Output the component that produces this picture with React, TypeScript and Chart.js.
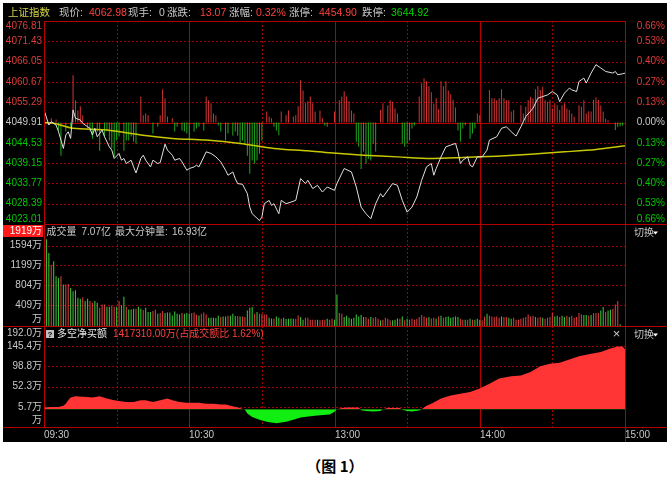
import React, { useEffect, useRef } from "react";
import { Chart, registerables } from "chart.js";

Chart.register(...registerables);

// ---------------- data ----------------
const indexName = "上证指数";
const quoteLabels = ["现价:", "现手:", "涨跌:", "涨幅:", "涨停:", "跌停:"];
const quoteValues = ["4062.98", "0", "13.07", "0.32%", "4454.90", "3644.92"];
const quoteTones = ["up", "flat", "up", "up", "up", "down"];

const prevClose = 4049.91;
const priceTicks = [4076.81, 4071.43, 4066.05, 4060.67, 4055.29, 4049.91, 4044.53, 4039.15, 4033.77, 4028.39, 4023.01];

const timeLabels = ["09:30", "10:30", "13:00", "14:00", "15:00"];
const timeLabelMinutes = [0, 60, 120, 180, 240];

const priceMinutes = [0,2,3,5,6,8,9,10,11,12,13,15,16,18,19,20,21,22,24,25,27,28,29,31,32,33,34,36,37,38,40,41,42,44,45,47,48,50,51,53,54,56,57,59,60,62,63,64,67,69,71,73,75,76,78,79,80,82,84,85,86,89,90,91,93,94,95,97,98,100,102,104,106,108,109,111,113,115,117,120,121,124,127,129,131,133,135,137,139,140,144,146,148,150,152,154,156,158,160,161,162,164,166,168,170,171,172,173,175,176,177,179,181,183,184,187,189,191,193,195,197,198,199,202,204,206,208,210,212,213,215,217,218,220,221,223,224,226,228,230,232,235,236,237,239,240];
const priceValues = [4053.24,4049.24,4050.12,4049.24,4047.46,4043.04,4046.58,4047.46,4045.70,4053.24,4051.03,4050.58,4049.70,4048.79,4048.37,4046.58,4048.37,4046.13,4047.91,4046.13,4043.46,4042.59,4040.38,4041.71,4039.92,4040.38,4039.04,4039.92,4038.14,4036.54,4040.38,4041.25,4039.92,4038.14,4039.92,4039.04,4039.30,4044.18,4042.59,4041.25,4039.92,4040.38,4039.47,4037.26,4037.71,4038.14,4038.59,4038.14,4042.13,4041.71,4040.80,4039.47,4037.26,4035.93,4036.81,4035.05,4033.72,4033.53,4031.05,4027.48,4025.73,4023.94,4024.82,4028.39,4029.27,4027.94,4028.39,4025.73,4029.27,4028.39,4028.82,4029.27,4035.05,4033.72,4034.60,4032.39,4033.26,4031.48,4032.81,4031.93,4033.72,4037.71,4036.81,4032.81,4027.48,4025.73,4024.39,4028.39,4031.05,4030.15,4033.72,4033.26,4029.27,4026.15,4027.48,4030.15,4034.60,4038.14,4039.04,4035.93,4037.71,4040.80,4043.46,4043.92,4044.37,4042.13,4039.04,4039.92,4040.80,4038.59,4038.14,4040.80,4040.80,4042.59,4045.25,4046.13,4048.37,4048.79,4047.46,4046.31,4048.79,4050.12,4051.46,4053.69,4056.36,4056.78,4057.23,4058.11,4057.23,4055.45,4057.69,4059.02,4058.57,4058.11,4060.78,4061.68,4060.35,4063.01,4065.23,4064.35,4063.44,4063.01,4063.44,4062.56,4062.83,4062.98];

const avgMinutes = [0,4,12,26,40,53,67,81,95,109,118,132,146,160,173,187,201,215,228,240];
const avgValues = [4049.91,4049.70,4048.37,4047.91,4046.58,4045.70,4045.25,4044.37,4043.04,4042.40,4041.87,4041.25,4040.80,4040.38,4040.64,4040.99,4041.52,4042.13,4042.77,4043.73];

const leadMinutes = [3,5,6,7,9,11,12,13,14,15,16,18,19,20,22,23,25,26,27,28,29,30,31,33,34,35,36,37,38,40,41,42,43,45,47,48,49,50,51,53,54,55,57,58,59,60,62,63,64,66,67,68,69,70,71,72,73,75,76,78,79,80,81,82,83,84,85,86,87,88,89,90,92,93,94,95,96,97,98,100,101,103,104,105,106,107,108,109,110,111,112,114,115,116,117,120,122,123,124,125,126,127,128,129,130,131,132,133,134,135,136,137,139,140,142,143,144,145,146,148,149,150,151,152,153,155,156,157,158,159,160,161,162,163,164,165,166,167,168,169,170,171,172,173,174,176,177,178,179,180,184,185,186,187,188,189,190,191,192,193,194,197,198,199,200,201,202,203,204,205,206,207,208,209,210,211,212,213,214,215,216,217,218,219,221,222,223,224,225,226,227,228,229,230,231,232,233,236,237,238,239];
const leadValues = [1.1,0.8,-2.1,-8.8,-2.4,-1.1,12.5,5.9,3.2,4.3,1.9,-1.6,-2.4,-4.3,-2.4,-7.5,-3.7,-2.4,-4.8,-6.9,-9.1,-4.8,-3.7,-7.5,-4.8,-4.8,-3.7,-5.1,-5.6,6.9,1.9,2.4,1.9,-2.9,-1.1,1.9,8.8,6.4,1.6,1.1,-2.4,-1.1,-2.1,-2.4,-2.9,-4.8,-2.4,-1.6,-1.1,-2.1,6.9,5.9,5.1,2.4,1.9,-0.8,-2.4,-4.8,-2.9,-3.5,-2.4,-3.5,-5.6,-4.8,-5.6,-8.8,-13.6,-10.1,-10.9,-10.1,-8.3,-4.8,2.9,1.6,1.1,-1.1,-2.1,-3.4,2.9,1.9,3.2,1.6,1.9,4.3,11.2,8.5,5.1,5.6,6.9,5.1,2.9,3.2,1.1,-0.8,-1.1,2.9,5.9,6.9,8.3,6.9,5.6,3.2,2.4,-5.1,-6.4,-12.3,-7.7,-10.9,-9.6,-10.1,-5.6,-7.7,3.3,5.1,4.5,5.9,5.5,3.7,2.4,-5.6,-6.4,-5.6,-4.8,-1.6,-0.8,6.9,10.4,11.7,10.9,9.6,8.0,5.0,6.4,3.5,10.9,9.6,10.9,8.5,7.5,6.0,4.0,-2.1,-5.1,-1.6,-0.7,-4.3,-2.9,-1.6,2.4,1.9,8.6,6.4,6.4,5.9,6.4,8.8,6.4,5.9,5.9,2.9,3.3,4.6,2.4,4.2,5.9,6.8,6.4,8.8,9.7,8.6,9.5,5.9,5.5,5.9,3.7,5.1,4.6,3.3,4.6,5.1,3.7,3.3,2.4,1.5,4.6,4.2,5.9,2.4,3.0,2.9,6.0,6.6,6.0,4.5,2.9,1.0,0.6,-2.0,-1.2,-1.0,-0.8];

// per-minute volume (万), starting at minute 1
const volumeValues = [
  1720,1444,1215,1281,985,952,985,821,821,834,755,690,709,558,538,571,493,538,493,460,493,460,361,427,427,381,381,407,381,381,493,407,578,381,329,329,341,341,381,341,315,361,276,
  276,296,322,243,256,296,256,269,269,210,289,243,230,256,243,256,243,256,269,223,210,243,269,230,164,164,164,158,204,177,190,190,204,204,243,197,197,190,190,177,309,361,374,243,276,243,243,230,230,164,151,144,190,164,144,164,138,144,151,144,144,210,177,125,164,164,125,125,125,125,112,125,125,144,125,144,125,
  624,
  256,243,177,204,164,144,164,230,190,217,177,177,144,177,164,177,144,112,125,164,144,112,112,125,151,144,190,112,144,125,144,125,144,177,217,190,164,177,151,164,144,190,204,164,177,190,164,177,190,177,144,125,125,125,144,125,125,144,125,112,190,243,204,190,177,190,164,190,177,177,164,144,164,125,125,144,164,177,230,190,204,177,164,177,164,144,164,177,256,190,204,177,204,177,204,177,204,164,177,256,230,217,217,204,217,256,256,256,309,374,276,309,322,341,427,493,33
];
const volumeDirs =
  "ggrgggrgrr" + "gggggrggrr" + "ggrrrggrrg" + "rggrgggrgg" + "rgg" +
  "grrgrrgggg" + "gggrgggrrr" + "grrrgggggr" + "ggrgggrgrr" + "gggrgrrrrg" + "grggrgg" + "gggrrggrrrrrgrrrgrrg" +
  "g" +
  "rrgggggggg" + "grrgrrrgrr" + "rrgggrgrg" + "rrrrrrrrgr" + "rgrgrggggg" + "grrgrgrgg" + "grrgrrrrrg" + "rrggrrrrrr" + "rrrgrrgrrr" + "rggrggrgrr" + "rrrggrgrrr" + "ggrggrrrg";
const volumeTicks = [1594, 1199, 804, 409];
const volumeTopValue = 1919;
const volumeMax = 2020;
const volumeHeader = ["成交量", "7.07亿", "最大分钟量:", "16.93亿"];

const netMinutes = [0,3,6,8,9,10,11,13,16,18,20,23,26,29,31,34,37,40,42,45,48,51,53,56,59,62,64,67,70,73,75,78,81,83,84,86,89,92,96,100,103,106,110,114,118,120,121,123,125,130,131,133,136,139,140,142,147,148,150,152,155,156,158,160,164,168,172,176,180,184,188,193,197,201,205,209,213,217,221,226,230,234,237,239,240];
const netValues = [4,5,5,8,13,21,27,30,29,28,27,30,25,21,19,17,17,21,21,17,21,25,21,17,15,15,15,13,13,11,11,7,3,-1,-10,-18,-24,-29,-32,-29,-24,-19,-16,-14,-12,-6,0,3,4,4,-2,-4,-5,-4,0,3,3,-1,-4,-5,-3,0,8,13,25,32,36,40,48,59,71,76,78,86,99,105,107,115,122,128,132,140,145,145,138];
const netTicks = [192.0, 145.4, 98.8, 52.3, 5.7];
const netMin = -40.9;
const netTitle = "多空净买额";
const netSummary = "1417310.00万(占成交额比 1.62%)";
const switchLabel = "切换";

// ---------------- layout & style ----------------
const OFF = 3;
const CW = 664;
const CH = 439;
const PLOT_LEFT = 41;
const PLOT_RIGHT = 622;
const PANEL_Y = [18, 221, 323, 424];

const COL = {
  solid: "#b40000",
  dash: "#a00000",
  text: "#c8c8c8",
  white: "#e8e8e8",
  upLbl: "#e03c3c",
  downLbl: "#00c800",
  upVal: "#ff4040",
  downVal: "#00d200",
  yellow: "#d2d246",
  price: "#e0e0e0",
  avg: "#c8c800",
  leadUp: "#d43434",
  leadDown: "#1ea81e",
  volUp: "#d03a3a",
  volDown: "#36bc36",
  netUp: "#ff3535",
  netDown: "#11ee11",
  box: "#ff1a1a",
};
const FONT = '10px "Liberation Sans", "Noto Sans CJK SC", sans-serif';
const HEAD_FONT = '10.5px "Liberation Sans", "Noto Sans CJK SC", sans-serif';
const headLabelX = [59, 128, 167, 229, 289, 362];
const headValueX = [89, 159, 200, 256, 319, 391];
const volHeadX = [46.5, 81.5, 115, 172];

function text(ctx: CanvasRenderingContext2D, s: string, x: number, y: number, color: string, align: CanvasTextAlign = "left", font = FONT) {
  ctx.save();
  ctx.font = font;
  ctx.fillStyle = color;
  ctx.textAlign = align;
  ctx.textBaseline = "middle";
  ctx.fillText(s, x, y);
  ctx.restore();
}
function hline(ctx: CanvasRenderingContext2D, x1: number, x2: number, y: number, color: string, dashed = false) {
  const yy = Math.round(y) + 0.5;
  ctx.save();
  ctx.strokeStyle = color;
  ctx.lineWidth = 1;
  ctx.setLineDash(dashed ? [2, 2] : []);
  ctx.beginPath();
  ctx.moveTo(x1, yy);
  ctx.lineTo(x2, yy);
  ctx.stroke();
  ctx.restore();
}
function vline(ctx: CanvasRenderingContext2D, x: number, y1: number, y2: number, color: string, dashed = false) {
  const xx = Math.round(x) + 0.5;
  ctx.save();
  ctx.strokeStyle = color;
  ctx.lineWidth = 1;
  ctx.setLineDash(dashed ? [2, 2] : []);
  ctx.beginPath();
  ctx.moveTo(xx, y1);
  ctx.lineTo(xx, y2);
  ctx.stroke();
  ctx.restore();
}
function vGrid(chart: any) {
  const { ctx, chartArea: a, scales } = chart;
  for (let m = 30; m < 240; m += 30) {
    const solid = m % 60 === 0;
    vline(ctx, scales.x.getPixelForValue(m), a.top, a.bottom, solid ? COL.solid : COL.dash, !solid);
  }
}
function frame(chart: any, bottomFull: boolean, rightTo: number) {
  const { ctx, chartArea: a } = chart;
  vline(ctx, a.left, a.top, a.bottom, COL.solid);
  vline(ctx, a.right, a.top, rightTo, COL.solid);
  hline(ctx, bottomFull ? 0 : a.left, CW, a.bottom, COL.solid);
}
function switchMark(ctx: CanvasRenderingContext2D, y: number) {
  text(ctx, switchLabel, 634 - OFF, y, COL.text);
  ctx.save();
  ctx.fillStyle = "#ffffff";
  ctx.beginPath();
  ctx.moveTo(653 - OFF, y - 1.5);
  ctx.lineTo(658 - OFF, y - 1.5);
  ctx.lineTo(655.5 - OFF, y + 1.5);
  ctx.closePath();
  ctx.fill();
  ctx.restore();
}
const toneColor = (t: string) => (t === "up" ? COL.upVal : t === "down" ? COL.downVal : COL.text);

const mainPlugin = {
  id: "mainDecor",
  beforeDatasetsDraw(chart: any) {
    const { ctx, chartArea: a, scales } = chart;
    priceTicks.forEach((v, i) => {
      if (i === 0 || i === priceTicks.length - 1) return;
      const solid = v === prevClose;
      hline(ctx, a.left, a.right, scales.y.getPixelForValue(v), solid ? COL.solid : COL.dash, !solid);
    });
    vGrid(chart);
  },
  afterDatasetsDraw(chart: any) {
    const { ctx, chartArea: a, scales } = chart;
    hline(ctx, a.left, a.right, a.top, COL.solid);
    frame(chart, false, a.bottom);
    const n = priceTicks.length;
    priceTicks.forEach((v, i) => {
      let py = scales.y.getPixelForValue(v);
      if (i === 0) py = a.top + 5;
      if (i === n - 1) py = a.bottom - 5;
      const col = v > prevClose ? COL.upLbl : v < prevClose ? COL.downLbl : COL.text;
      text(ctx, v.toFixed(2), PLOT_LEFT - 2, py, col, "right");
      const pct = Math.abs(((v - prevClose) / prevClose) * 100).toFixed(2) + "%";
      text(ctx, pct, CW - 2, py, col, "right");
    });
    const hy = 13 - OFF;
    text(ctx, indexName, 8 - OFF, hy, COL.yellow, "left", HEAD_FONT);
    quoteLabels.forEach((s, i) => text(ctx, s, headLabelX[i] - OFF, hy, COL.text, "left", HEAD_FONT));
    quoteValues.forEach((s, i) => text(ctx, s, headValueX[i] - OFF, hy, toneColor(quoteTones[i]), "left", HEAD_FONT));
  },
};

const volPlugin = {
  id: "volDecor",
  beforeDatasetsDraw(chart: any) {
    const { ctx, chartArea: a, scales } = chart;
    volumeTicks.forEach((v) => hline(ctx, a.left, a.right, scales.y.getPixelForValue(v), COL.dash, true));
    vGrid(chart);
  },
  afterDatasetsDraw(chart: any) {
    const { ctx, chartArea: a, scales } = chart;
    frame(chart, true, a.bottom);
    ctx.save();
    ctx.fillStyle = COL.box;
    ctx.fillRect(0, a.top + 1, PLOT_LEFT - 1, 12);
    ctx.restore();
    text(ctx, volumeTopValue + "万", PLOT_LEFT - 2, a.top + 7, "#ffffff", "right");
    volumeTicks.forEach((v) => text(ctx, v + "万", PLOT_LEFT - 2, scales.y.getPixelForValue(v), COL.text, "right"));
    text(ctx, "万", PLOT_LEFT - 2, a.bottom - 7, COL.text, "right");
    const hy = 232 - OFF;
    volumeHeader.forEach((s, i) => text(ctx, s, volHeadX[i] - OFF, hy, COL.text));
    switchMark(ctx, 233 - OFF);
  },
};

const netPlugin = {
  id: "netDecor",
  beforeDatasetsDraw(chart: any) {
    const { ctx, chartArea: a, scales } = chart;
    netTicks.forEach((v, i) => {
      if (i === 0) return;
      hline(ctx, a.left, a.right, scales.y.getPixelForValue(v), COL.dash, true);
    });
    vGrid(chart);
  },
  afterDatasetsDraw(chart: any) {
    const { ctx, chartArea: a, scales } = chart;
    hline(ctx, 0, CW, a.top, COL.solid);
    frame(chart, true, CH);
    netTicks.forEach((v, i) => {
      const py = i === 0 ? a.top + 7 : scales.y.getPixelForValue(v);
      text(ctx, v.toFixed(1) + "万", PLOT_LEFT - 2, py, COL.text, "right");
    });
    text(ctx, "万", PLOT_LEFT - 2, a.bottom - 7, COL.text, "right");
    const hy = 334 - OFF;
    ctx.save();
    ctx.fillStyle = "#c0c0c0";
    ctx.fillRect(46 - OFF, 330 - OFF, 8, 8);
    ctx.restore();
    text(ctx, "?", 50 - OFF, 334.5 - OFF, "#000000", "center", 'bold 8px "Liberation Sans"');
    text(ctx, netTitle, 57 - OFF, hy, COL.white);
    text(ctx, netSummary, 113 - OFF, hy, COL.upVal);
    text(ctx, "×", 616.5 - OFF, hy, COL.text, "center", '13px "Liberation Sans"');
    switchMark(ctx, 335 - OFF);
    timeLabels.forEach((s, i) => {
      const px = Math.round(scales.x.getPixelForValue(timeLabelMinutes[i]));
      text(ctx, s, px, 435 - OFF, COL.text, "left");
    });
  },
};

function baseOptions(top: number, bottom: number, yScales: any) {
  return {
    responsive: false,
    animation: false,
    devicePixelRatio: 1,
    events: [],
    layout: {
      autoPadding: false,
      padding: { left: PLOT_LEFT, right: CW - PLOT_RIGHT, top, bottom: CH - bottom },
    },
    plugins: { legend: { display: false }, tooltip: { enabled: false } },
    scales: {
      x: { type: "linear", min: 0, max: 240, display: false, offset: false },
      ...yScales,
    },
  };
}

function mainConfig(): any {
  const half = priceTicks[0] - prevClose;
  return {
    type: "line",
    data: {
      datasets: [
        {
          type: "line",
          label: "成交价",
          data: priceMinutes.map((m, i) => ({ x: m, y: priceValues[i] })),
          yAxisID: "y",
          borderColor: COL.price,
          borderWidth: 1,
          pointRadius: 0,
          tension: 0,
          order: 1,
        },
        {
          type: "line",
          label: "均价",
          data: avgMinutes.map((m, i) => ({ x: m, y: avgValues[i] })),
          yAxisID: "y",
          borderColor: COL.avg,
          borderWidth: 1.5,
          pointRadius: 0,
          tension: 0.3,
          order: 2,
        },
        {
          type: "bar",
          label: "领先",
          data: leadMinutes.map((m, i) => ({ x: m, y: leadValues[i] })),
          yAxisID: "lead",
          backgroundColor: (c: any) => ((c.raw && c.raw.y >= 0) ? COL.leadUp : COL.leadDown),
          barThickness: 1,
          inflateAmount: 0,
          order: 3,
        },
      ],
    },
    options: baseOptions(PANEL_Y[0], PANEL_Y[1], {
      y: { type: "linear", min: priceTicks[priceTicks.length - 1], max: priceTicks[0], display: false },
      lead: { type: "linear", min: -half, max: half, display: false },
    }),
    plugins: [mainPlugin],
  };
}

function volConfig(): any {
  return {
    type: "bar",
    data: {
      datasets: [
        {
          label: "成交量",
          data: volumeValues.map((v, i) => ({ x: i + 1, y: v })),
          backgroundColor: (c: any) => (volumeDirs[c.dataIndex] === "r" ? COL.volUp : COL.volDown),
          barThickness: 1.1,
          inflateAmount: 0,
        },
      ],
    },
    options: baseOptions(PANEL_Y[1], PANEL_Y[2], {
      y: { type: "linear", min: 0, max: volumeMax, display: false },
    }),
    plugins: [volPlugin],
  };
}

function netConfig(): any {
  return {
    type: "line",
    data: {
      datasets: [
        {
          label: netTitle,
          data: netMinutes.map((m, i) => ({ x: m, y: netValues[i] })),
          borderColor: "rgba(0,0,0,0)",
          borderWidth: 0,
          pointRadius: 0,
          tension: 0,
          fill: { target: { value: 0 }, above: COL.netUp, below: COL.netDown },
        },
      ],
    },
    options: baseOptions(PANEL_Y[2], PANEL_Y[3], {
      y: { type: "linear", min: netMin, max: netTicks[0], display: false },
    }),
    plugins: [netPlugin],
  };
}

export default function App() {
  const r1 = useRef<HTMLCanvasElement>(null);
  const r2 = useRef<HTMLCanvasElement>(null);
  const r3 = useRef<HTMLCanvasElement>(null);

  useEffect(() => {
    const charts = [
      new Chart(r1.current as HTMLCanvasElement, mainConfig()),
      new Chart(r2.current as HTMLCanvasElement, volConfig()),
      new Chart(r3.current as HTMLCanvasElement, netConfig()),
    ];
    return () => charts.forEach((c) => c.destroy());
  }, []);

  const cs: React.CSSProperties = { position: "absolute", left: 0, top: 0, width: CW, height: CH };
  return (
    <div style={{ position: "fixed", left: 0, top: 0, width: 670, height: 483, background: "#ffffff" }}>
      <div style={{ position: "absolute", left: OFF, top: OFF, width: CW, height: CH, background: "#000000" }}>
        <canvas ref={r1} width={CW} height={CH} style={cs} />
        <canvas ref={r2} width={CW} height={CH} style={cs} />
        <canvas ref={r3} width={CW} height={CH} style={cs} />
      </div>
      <div
        style={{
          position: "absolute",
          left: 0,
          top: 455,
          width: 670,
          textAlign: "center",
          font: 'bold 15px "Noto Sans CJK SC", sans-serif',
          color: "#000000",
        }}
      >
        （图 1）
      </div>
    </div>
  );
}
